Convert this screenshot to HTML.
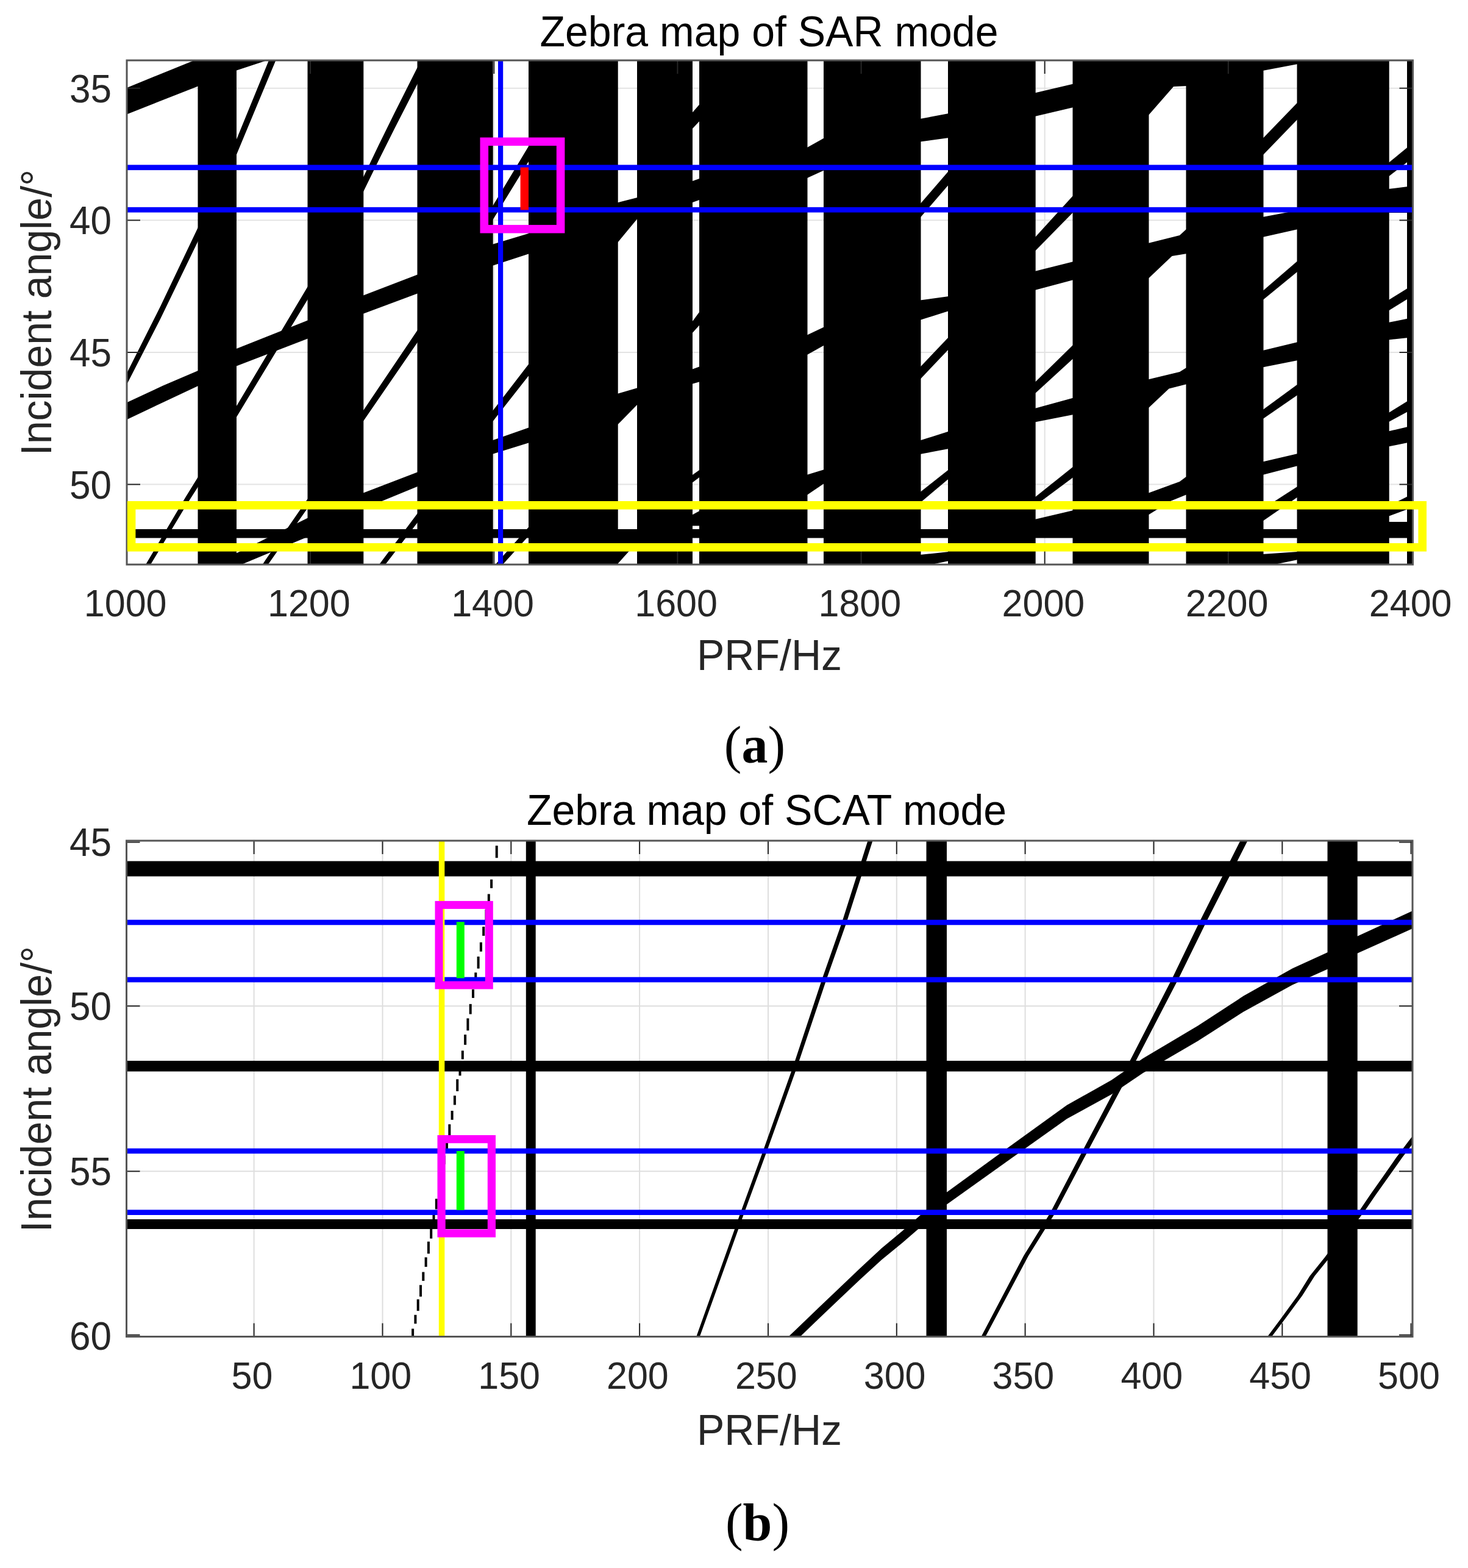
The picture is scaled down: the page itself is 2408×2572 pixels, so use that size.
<!DOCTYPE html>
<html lang="en">
<head>
<meta charset="utf-8">
<title>Zebra map of SAR mode and SCAT mode</title>
<style>
html,body{margin:0;padding:0;background:#fff;}
body{width:2408px;height:2572px;overflow:hidden;font-family:'Liberation Sans', Arial, Helvetica, sans-serif;}
svg{display:block;filter:blur(0.6px);}
</style>
</head>
<body>
<svg width="2408" height="2572" viewBox="0 0 2408 2572">
<defs>
<clipPath id="clipT"><rect x="208" y="99" width="2109.5" height="827"/></clipPath>
<clipPath id="clipB"><rect x="207.5" y="1379" width="2109.5" height="813.5"/></clipPath>
</defs>
<rect width="2408" height="2572" fill="#fff"/>
<rect x="208" y="99" width="2109.5" height="827" fill="#fff"/>
<line x1="208" x2="2317.5" y1="144.7" y2="144.7" stroke="#e3e3e3" stroke-width="2"/>
<line x1="208" x2="2317.5" y1="361.3" y2="361.3" stroke="#e3e3e3" stroke-width="2"/>
<line x1="208" x2="2317.5" y1="578" y2="578" stroke="#e3e3e3" stroke-width="2"/>
<line x1="208" x2="2317.5" y1="794.6" y2="794.6" stroke="#e3e3e3" stroke-width="2"/>
<line x1="509.1" x2="509.1" y1="99" y2="926" stroke="#e3e3e3" stroke-width="2"/>
<line x1="810.3" x2="810.3" y1="99" y2="926" stroke="#e3e3e3" stroke-width="2"/>
<line x1="1111.4" x2="1111.4" y1="99" y2="926" stroke="#e3e3e3" stroke-width="2"/>
<line x1="1412.6" x2="1412.6" y1="99" y2="926" stroke="#e3e3e3" stroke-width="2"/>
<line x1="1713.7" x2="1713.7" y1="99" y2="926" stroke="#e3e3e3" stroke-width="2"/>
<line x1="2014.8" x2="2014.8" y1="99" y2="926" stroke="#e3e3e3" stroke-width="2"/>
<g fill="#000" stroke="none" clip-path="url(#clipT)">
<rect x="324.5" y="99" width="63.5" height="827"/>
<rect x="504.5" y="99" width="91.8" height="827"/>
<rect x="684.5" y="99" width="124.2" height="827"/>
<rect x="867" y="99" width="146.7" height="827"/>
<rect x="1045" y="99" width="91" height="827"/>
<rect x="1147" y="99" width="177.5" height="827"/>
<rect x="1351" y="99" width="159.5" height="827"/>
<rect x="1555" y="99" width="143.7" height="827"/>
<rect x="1759.5" y="99" width="125" height="827"/>
<rect x="1945.5" y="99" width="127" height="827"/>
<rect x="2127.5" y="99" width="151.2" height="827"/>
<rect x="2308" y="99" width="10" height="827"/>
<polygon points="206.5,144.5 326,96 326,141 206.5,188"/>
<polygon points="386.5,572.5 506,525 506,555 386.5,601"/>
<polygon points="386.5,908 506,849 506,880 386.5,930"/>
<polygon points="594.8,485 686,450 686,481 594.8,515"/>
<polygon points="594.8,809 686,774 686,797.5 594.8,835"/>
<polygon points="807.2,401 868.5,382.5 868.5,416 807.2,436"/>
<polygon points="807.2,722.5 868.5,701 868.5,726 807.2,745"/>
<polygon points="1134.5,186 1148.5,170 1148.5,197.5 1134.5,212.5"/>
<polygon points="1134.5,297.5 1148.5,292.5 1148.5,327.5 1134.5,332.5"/>
<polygon points="1134.5,529 1148.5,510 1148.5,532 1134.5,547.5"/>
<polygon points="1134.5,606 1148.5,601 1148.5,626 1134.5,630"/>
<polygon points="1134.5,780 1148.5,770 1148.5,782 1134.5,792.5"/>
<polygon points="1134.5,845 1148.5,837.5 1148.5,862.5 1134.5,862.5"/>
<polygon points="1323,242.5 1352.5,226 1352.5,279 1323,292.5"/>
<polygon points="1323,550 1352.5,536 1352.5,566 1323,582.5"/>
<polygon points="1323,779 1352.5,770 1352.5,792.5 1323,812.5"/>
<polygon points="1509,195 1556.5,186 1556.5,226 1509,232.5"/>
<polygon points="1509,335 1556.5,280 1556.5,302.5 1509,357.5"/>
<polygon points="1509,492.5 1556.5,486 1556.5,510 1509,525"/>
<polygon points="1509,602.5 1556.5,552.5 1556.5,572.5 1509,622.5"/>
<polygon points="1509,722.5 1556.5,707.5 1556.5,736 1509,745"/>
<polygon points="1509,807.5 1556.5,770 1556.5,785 1509,825"/>
<polygon points="1509,910 1556.5,905 1556.5,920 1509,930"/>
<polygon points="1697.2,152.5 1761,137.5 1761,176 1697.2,191"/>
<polygon points="1697.2,390 1761,320 1761,347.5 1697.2,412.5"/>
<polygon points="1697.2,445 1761,429 1761,459 1697.2,476"/>
<polygon points="1697.2,627.5 1761,565 1761,587.5 1697.2,646"/>
<polygon points="1697.2,670 1761,652.5 1761,680 1697.2,692.5"/>
<polygon points="1697.2,816 1761,765 1761,782.5 1697.2,830"/>
<polygon points="1697.2,852 1761,837 1761,868 1697.2,868"/>
<polygon points="2071,90 2129,90 2129,105 2071,116"/>
<polygon points="2071,227.5 2129,167.5 2129,195 2071,255"/>
<polygon points="2071,356 2129,345 2129,376 2071,389"/>
<polygon points="2071,477.5 2129,427.5 2129,445 2071,492.5"/>
<polygon points="2071,575 2129,561 2129,591 2071,602.5"/>
<polygon points="2071,672.5 2129,630 2129,647.5 2071,687.5"/>
<polygon points="2071,757.5 2129,744 2129,764 2071,779"/>
<polygon points="2071,835 2129,797.5 2129,815 2071,855"/>
<polygon points="2071,909 2129,905 2129,918 2071,930"/>
<polygon points="2277.2,267.5 2309.5,241 2309.5,265 2277.2,290"/>
<polygon points="2277.2,310 2309.5,306 2309.5,349 2277.2,349"/>
<polygon points="2277.2,492.5 2309.5,472.5 2309.5,490 2277.2,510"/>
<polygon points="2277.2,529 2309.5,522.5 2309.5,554 2277.2,557.5"/>
<polygon points="2277.2,677.5 2309.5,657.5 2309.5,675 2277.2,692.5"/>
<polygon points="2277.2,707.5 2309.5,700 2309.5,726 2277.2,732.5"/>
<polygon points="2277.2,830 2309.5,814 2309.5,835 2277.2,847"/>
<polygon points="2277.2,856 2309.5,856 2309.5,868 2277.2,868"/>
<polygon points="386.5,99 438,99 386.5,116"/>
<polygon points="206.5,661 267.5,632.5 326,607.5 326,632.5 267.5,660 206.5,689"/>
<polygon points="1012.2,332.5 1046.5,323.7 1046.5,357.5 1012.2,399"/>
<polygon points="1012.2,646 1046.5,636 1046.5,662.5 1012.2,697.5"/>
<polygon points="1012.2,868 1046.5,868 1046.5,891 1031,905 1012.2,926"/>
<polygon points="1883,99 1947,99 1947,141 1925,142 1883,190"/>
<polygon points="1883,399 1935,386 1947,375 1947,416 1922.5,420 1883,457.5"/>
<polygon points="1883,622.5 1935,610 1947,602.5 1947,630 1917.5,637.5 1883,670"/>
<polygon points="1883,809 1935,790 1947,781 1947,811 1920,822 1883,845"/>
<polygon points="190,648 208.7,610.7 263,502.8 324.5,373.7 388,228.4 446,86.8 455,65.1 455,92.9 446,114.2 388,253.6 324.5,396.3 263,523.2 208.7,629.3 190,666"/>
<polygon points="231,939.4 243,919.3 305,814.4 324.5,783.1 388,666.1 504.5,470.5 596,290.5 621.4,237.5 647,185.5 684.5,111 705,70.1 705,97.9 684.5,138 647,211.3 621.4,262.5 596,314.5 504.5,491.5 388,683.9 324.5,798.9 305,829.6 243,932.7 231,952.6"/>
<polygon points="422,939.4 435,919.3 504.5,818.4 596,673.2 684.5,542.1 808.7,336.9 867,240 880,218.4 880,243.6 867,265 808.7,360.1 684.5,561.9 596,690.8 504.5,833.6 435,932.7 422,952.6"/>
<polygon points="612,939.4 627,919.3 684.5,842.6 808.7,673.2 867,597.6 880,580.4 880,599.6 867,616.4 808.7,690.8 684.5,857.4 627,932.7 612,952.6"/>
<polygon points="800,940.1 818.6,919.3 867,864.8 880,850.2 880,864.8 867,879.2 818.6,932.7 800,953.3"/>
<rect x="208" y="868" width="2109.5" height="14.5"/>
</g>
<line x1="208" x2="230" y1="144.7" y2="144.7" stroke="#262626" stroke-width="2"/>
<line x1="2317.5" x2="2295.5" y1="144.7" y2="144.7" stroke="#262626" stroke-width="2"/>
<line x1="208" x2="230" y1="361.3" y2="361.3" stroke="#262626" stroke-width="2"/>
<line x1="2317.5" x2="2295.5" y1="361.3" y2="361.3" stroke="#262626" stroke-width="2"/>
<line x1="208" x2="230" y1="578" y2="578" stroke="#262626" stroke-width="2"/>
<line x1="2317.5" x2="2295.5" y1="578" y2="578" stroke="#262626" stroke-width="2"/>
<line x1="208" x2="230" y1="794.6" y2="794.6" stroke="#262626" stroke-width="2"/>
<line x1="2317.5" x2="2295.5" y1="794.6" y2="794.6" stroke="#262626" stroke-width="2"/>
<line x1="509.1" x2="509.1" y1="99" y2="121" stroke="#262626" stroke-width="2"/>
<line x1="509.1" x2="509.1" y1="926" y2="904" stroke="#262626" stroke-width="2"/>
<line x1="810.3" x2="810.3" y1="99" y2="121" stroke="#262626" stroke-width="2"/>
<line x1="810.3" x2="810.3" y1="926" y2="904" stroke="#262626" stroke-width="2"/>
<line x1="1111.4" x2="1111.4" y1="99" y2="121" stroke="#262626" stroke-width="2"/>
<line x1="1111.4" x2="1111.4" y1="926" y2="904" stroke="#262626" stroke-width="2"/>
<line x1="1412.6" x2="1412.6" y1="99" y2="121" stroke="#262626" stroke-width="2"/>
<line x1="1412.6" x2="1412.6" y1="926" y2="904" stroke="#262626" stroke-width="2"/>
<line x1="1713.7" x2="1713.7" y1="99" y2="121" stroke="#262626" stroke-width="2"/>
<line x1="1713.7" x2="1713.7" y1="926" y2="904" stroke="#262626" stroke-width="2"/>
<line x1="2014.8" x2="2014.8" y1="99" y2="121" stroke="#262626" stroke-width="2"/>
<line x1="2014.8" x2="2014.8" y1="926" y2="904" stroke="#262626" stroke-width="2"/>
<rect x="208" y="270.4" width="2108.5" height="8.7" fill="#00f"/>
<rect x="208" y="339.8" width="2108.5" height="8.7" fill="#00f"/>
<rect x="817" y="99" width="8.2" height="827" fill="#00f"/>
<rect x="208" y="99" width="2109.5" height="827" fill="none" stroke="#555" stroke-width="3"/>
<rect x="853.6" y="274.6" width="13.4" height="69.8" fill="#f00"/>
<rect x="794.3" y="232.3" width="125.3" height="143.4" fill="none" stroke="#f0f" stroke-width="13.6"/>
<rect x="215.6" y="828.8" width="2117.6" height="69" fill="none" stroke="#ff0" stroke-width="13.6"/>
<rect x="207.5" y="1379" width="2109.5" height="813.5" fill="#fff"/>
<line x1="207.5" x2="2317" y1="1650.2" y2="1650.2" stroke="#dedede" stroke-width="2"/>
<line x1="207.5" x2="2317" y1="1921.3" y2="1921.3" stroke="#dedede" stroke-width="2"/>
<line x1="416.6" x2="416.6" y1="1379" y2="2192.5" stroke="#dedede" stroke-width="2"/>
<line x1="627.5" x2="627.5" y1="1379" y2="2192.5" stroke="#dedede" stroke-width="2"/>
<line x1="838.3" x2="838.3" y1="1379" y2="2192.5" stroke="#dedede" stroke-width="2"/>
<line x1="1049.1" x2="1049.1" y1="1379" y2="2192.5" stroke="#dedede" stroke-width="2"/>
<line x1="1260" x2="1260" y1="1379" y2="2192.5" stroke="#dedede" stroke-width="2"/>
<line x1="1470.8" x2="1470.8" y1="1379" y2="2192.5" stroke="#dedede" stroke-width="2"/>
<line x1="1681.6" x2="1681.6" y1="1379" y2="2192.5" stroke="#dedede" stroke-width="2"/>
<line x1="1892.5" x2="1892.5" y1="1379" y2="2192.5" stroke="#dedede" stroke-width="2"/>
<line x1="2103.3" x2="2103.3" y1="1379" y2="2192.5" stroke="#dedede" stroke-width="2"/>
<g fill="#000" stroke="none" clip-path="url(#clipB)">
<rect x="207.5" y="1412.5" width="2109.5" height="25"/>
<rect x="207.5" y="1740" width="2109.5" height="17.5"/>
<rect x="207.5" y="2000" width="2109.5" height="16"/>
<rect x="862.8" y="1379" width="15.9" height="813.5"/>
<rect x="1519.5" y="1379" width="33.5" height="813.5"/>
<rect x="2177.5" y="1379" width="49.2" height="813.5"/>
<polygon points="1284,2201.3 1304.2,2182.2 1342.9,2145 1376.8,2112.8 1410.6,2080.4 1446.1,2047.5 1480,2019.3 1552.5,1955.9 1660,1877.7 1750,1812.7 1823,1771.8 1875,1736 1965,1682.5 2040,1633.6 2120,1588.6 2177.5,1562.3 2227,1535.5 2315,1495 2330,1487.9 2330,1517.1 2315,1524 2227,1563.5 2177.5,1589.7 2120,1615.4 2040,1659.4 1965,1707.5 1875,1760 1823,1795.2 1750,1835.3 1660,1899.3 1552.5,1976.1 1480,2038.7 1446.1,2066.5 1410.6,2099 1376.8,2131.1 1342.9,2163.3 1304.2,2200.5 1284,2219.7"/>
<polygon points="1427,1369 1423.5,1379 1381.2,1512.5 1348.8,1605 1301.6,1747.5 1251.8,1887.5 1214.4,1990 1142.2,2192.5 1138.8,2202 1144.2,2202 1147.8,2192.5 1220.6,1990 1258.2,1887.5 1308.4,1747.5 1356.2,1605 1388.8,1512.5 1431.5,1379 1435,1369"/>
<polygon points="1604.5,2202 1609.5,2192.5 1679.1,2060 1722.4,1990 1775.9,1887.5 1849.6,1747.5 1922.7,1605 1967.4,1512.5 2034.5,1379 2039.5,1369 2051.5,1369 2046.5,1379 1978.6,1512.5 1933.3,1605 1859.4,1747.5 1784.7,1887.5 1730.6,1990 1686.9,2060 1616.5,2192.5 1611.5,2202"/>
<polygon points="2072.5,2202 2079,2192.5 2101.4,2162.5 2128.7,2125 2148.5,2093 2173.4,2062 2230.5,1985 2247.4,1960 2270.3,1927.5 2290.1,1899 2310,1872.5 2319,1861 2329,1861 2320,1872.5 2299.9,1899 2279.7,1927.5 2256.6,1960 2239.5,1985 2181.6,2062 2156.5,2093 2136.3,2125 2108.6,2162.5 2086,2192.5 2079.5,2202"/>
<rect x="817" y="1362.3" width="4" height="17"/>
<rect x="812.7" y="1387.2" width="4" height="20"/>
<rect x="808.4" y="1415.4" width="4" height="16.2"/>
<rect x="804.1" y="1442.6" width="4" height="14.2"/>
<rect x="799.8" y="1466.5" width="4" height="18.5"/>
<rect x="795.5" y="1492" width="4" height="19.4"/>
<rect x="791.2" y="1520.1" width="4" height="14.9"/>
<rect x="786.9" y="1545.7" width="4" height="15.1"/>
<rect x="782.6" y="1569.1" width="4" height="19.6"/>
<rect x="778.3" y="1595.3" width="4" height="18.2"/>
<rect x="774" y="1622.8" width="4" height="14.1"/>
<rect x="769.7" y="1646.9" width="4" height="16.6"/>
<rect x="765.4" y="1670.4" width="4" height="20"/>
<rect x="761.1" y="1697.1" width="4" height="16.7"/>
<rect x="756.8" y="1723.4" width="4" height="14.1"/>
<rect x="752.5" y="1746.3" width="4" height="18.1"/>
<rect x="748.2" y="1770.3" width="4" height="19.6"/>
<rect x="743.9" y="1797.2" width="4" height="15.2"/>
<rect x="739.6" y="1822" width="4" height="14.8"/>
<rect x="735.3" y="1844.2" width="4" height="19.3"/>
<rect x="731" y="1869" width="4" height="18.6"/>
<rect x="726.7" y="1895.5" width="4" height="14.3"/>
<rect x="722.4" y="1918.8" width="4" height="16.1"/>
<rect x="718.1" y="1941" width="4" height="20"/>
<rect x="713.8" y="1966.4" width="4" height="17.1"/>
<rect x="709.5" y="1991.9" width="4" height="14"/>
<rect x="705.2" y="2014" width="4" height="17.6"/>
<rect x="700.9" y="2036.6" width="4" height="19.8"/>
<rect x="696.6" y="2062.4" width="4" height="15.6"/>
<rect x="692.3" y="2086.5" width="4" height="14.5"/>
<rect x="688" y="2107.8" width="4" height="19"/>
<rect x="683.7" y="2131.3" width="4" height="18.9"/>
<rect x="679.4" y="2156.8" width="4" height="14.5"/>
<rect x="675.1" y="2179.5" width="4" height="15.7"/>
</g>
<line x1="416.6" x2="416.6" y1="1379" y2="1401" stroke="#262626" stroke-width="2"/>
<line x1="416.6" x2="416.6" y1="2192.5" y2="2170.5" stroke="#262626" stroke-width="2"/>
<line x1="627.5" x2="627.5" y1="1379" y2="1401" stroke="#262626" stroke-width="2"/>
<line x1="627.5" x2="627.5" y1="2192.5" y2="2170.5" stroke="#262626" stroke-width="2"/>
<line x1="838.3" x2="838.3" y1="1379" y2="1401" stroke="#262626" stroke-width="2"/>
<line x1="838.3" x2="838.3" y1="2192.5" y2="2170.5" stroke="#262626" stroke-width="2"/>
<line x1="1049.1" x2="1049.1" y1="1379" y2="1401" stroke="#262626" stroke-width="2"/>
<line x1="1049.1" x2="1049.1" y1="2192.5" y2="2170.5" stroke="#262626" stroke-width="2"/>
<line x1="1260" x2="1260" y1="1379" y2="1401" stroke="#262626" stroke-width="2"/>
<line x1="1260" x2="1260" y1="2192.5" y2="2170.5" stroke="#262626" stroke-width="2"/>
<line x1="1470.8" x2="1470.8" y1="1379" y2="1401" stroke="#262626" stroke-width="2"/>
<line x1="1470.8" x2="1470.8" y1="2192.5" y2="2170.5" stroke="#262626" stroke-width="2"/>
<line x1="1681.6" x2="1681.6" y1="1379" y2="1401" stroke="#262626" stroke-width="2"/>
<line x1="1681.6" x2="1681.6" y1="2192.5" y2="2170.5" stroke="#262626" stroke-width="2"/>
<line x1="1892.5" x2="1892.5" y1="1379" y2="1401" stroke="#262626" stroke-width="2"/>
<line x1="1892.5" x2="1892.5" y1="2192.5" y2="2170.5" stroke="#262626" stroke-width="2"/>
<line x1="2103.3" x2="2103.3" y1="1379" y2="1401" stroke="#262626" stroke-width="2"/>
<line x1="2103.3" x2="2103.3" y1="2192.5" y2="2170.5" stroke="#262626" stroke-width="2"/>
<line x1="207.5" x2="229.5" y1="1379" y2="1379" stroke="#262626" stroke-width="2"/>
<line x1="2317" x2="2295" y1="1379" y2="1379" stroke="#262626" stroke-width="2"/>
<line x1="207.5" x2="229.5" y1="1650.2" y2="1650.2" stroke="#262626" stroke-width="2"/>
<line x1="2317" x2="2295" y1="1650.2" y2="1650.2" stroke="#262626" stroke-width="2"/>
<line x1="207.5" x2="229.5" y1="1921.3" y2="1921.3" stroke="#262626" stroke-width="2"/>
<line x1="2317" x2="2295" y1="1921.3" y2="1921.3" stroke="#262626" stroke-width="2"/>
<line x1="207.5" x2="229.5" y1="2192.4" y2="2192.4" stroke="#262626" stroke-width="2"/>
<line x1="2317" x2="2295" y1="2192.4" y2="2192.4" stroke="#262626" stroke-width="2"/>
<line x1="207.5" x2="229.5" y1="1381.5" y2="1381.5" stroke="#262626" stroke-width="2"/>
<line x1="2317" x2="2295" y1="1381.5" y2="1381.5" stroke="#262626" stroke-width="2"/>
<line x1="207.5" x2="229.5" y1="2189.7" y2="2189.7" stroke="#262626" stroke-width="2"/>
<line x1="2317" x2="2295" y1="2189.7" y2="2189.7" stroke="#262626" stroke-width="2"/>
<line x1="2314.5" x2="2314.5" y1="1379" y2="1401" stroke="#262626" stroke-width="2"/>
<line x1="2314.5" x2="2314.5" y1="2170.5" y2="2192.5" stroke="#262626" stroke-width="2"/>
<rect x="207.5" y="1508.7" width="2108.5" height="8.6" fill="#00f"/>
<rect x="207.5" y="1602.7" width="2108.5" height="8.6" fill="#00f"/>
<rect x="207.5" y="1883.7" width="2108.5" height="8.6" fill="#00f"/>
<rect x="207.5" y="1984.4" width="2108.5" height="8.6" fill="#00f"/>
<rect x="719.8" y="1379" width="9.5" height="813.5" fill="#ff0"/>
<rect x="207.5" y="1379" width="2109.5" height="813.5" fill="none" stroke="#555" stroke-width="3"/>
<rect x="748.8" y="1512.2" width="13" height="92.3" fill="#0f0"/>
<rect x="748.8" y="1888" width="13" height="97" fill="#0f0"/>
<rect x="720" y="1484.4" width="82.3" height="131.6" fill="none" stroke="#f0f" stroke-width="13"/>
<rect x="724.1" y="1868.6" width="82.3" height="154.4" fill="none" stroke="#f0f" stroke-width="13.2"/>
<g font-family="'Liberation Sans', Arial, Helvetica, sans-serif" fill="#262626">
<text transform="translate(1261.5,75.5) scale(1,1.04)" font-size="68" text-anchor="middle" fill="#000">Zebra map of SAR mode</text>
<text transform="translate(1257.5,1353) scale(1,1.04)" font-size="68" text-anchor="middle" fill="#000">Zebra map of SCAT mode</text>
<text transform="translate(183,167.7) scale(1,1.04)" font-size="62" text-anchor="end">35</text>
<text transform="translate(183,384.3) scale(1,1.04)" font-size="62" text-anchor="end">40</text>
<text transform="translate(183,601) scale(1,1.04)" font-size="62" text-anchor="end">45</text>
<text transform="translate(183,817.6) scale(1,1.04)" font-size="62" text-anchor="end">50</text>
<text transform="translate(183,1404.3) scale(1,1.04)" font-size="62" text-anchor="end">45</text>
<text transform="translate(183,1673.4) scale(1,1.04)" font-size="62" text-anchor="end">50</text>
<text transform="translate(183,1943.7) scale(1,1.04)" font-size="62" text-anchor="end">55</text>
<text transform="translate(183,2214) scale(1,1.04)" font-size="62" text-anchor="end">60</text>
<text transform="translate(205.7,1010.5) scale(1,1.04)" font-size="61" text-anchor="middle">1000</text>
<text transform="translate(506.8,1010.5) scale(1,1.04)" font-size="61" text-anchor="middle">1200</text>
<text transform="translate(808,1010.5) scale(1,1.04)" font-size="61" text-anchor="middle">1400</text>
<text transform="translate(1109.1,1010.5) scale(1,1.04)" font-size="61" text-anchor="middle">1600</text>
<text transform="translate(1410.3,1010.5) scale(1,1.04)" font-size="61" text-anchor="middle">1800</text>
<text transform="translate(1711.4,1010.5) scale(1,1.04)" font-size="61" text-anchor="middle">2000</text>
<text transform="translate(2012.5,1010.5) scale(1,1.04)" font-size="61" text-anchor="middle">2200</text>
<text transform="translate(2313.7,1010.5) scale(1,1.04)" font-size="61" text-anchor="middle">2400</text>
<text transform="translate(413.4,2277.5) scale(1,1.04)" font-size="61" text-anchor="middle">50</text>
<text transform="translate(624.3,2277.5) scale(1,1.04)" font-size="61" text-anchor="middle">100</text>
<text transform="translate(835.1,2277.5) scale(1,1.04)" font-size="61" text-anchor="middle">150</text>
<text transform="translate(1045.9,2277.5) scale(1,1.04)" font-size="61" text-anchor="middle">200</text>
<text transform="translate(1256.8,2277.5) scale(1,1.04)" font-size="61" text-anchor="middle">250</text>
<text transform="translate(1467.6,2277.5) scale(1,1.04)" font-size="61" text-anchor="middle">300</text>
<text transform="translate(1678.4,2277.5) scale(1,1.04)" font-size="61" text-anchor="middle">350</text>
<text transform="translate(1889.3,2277.5) scale(1,1.04)" font-size="61" text-anchor="middle">400</text>
<text transform="translate(2100.1,2277.5) scale(1,1.04)" font-size="61" text-anchor="middle">450</text>
<text transform="translate(2311,2277.5) scale(1,1.04)" font-size="61" text-anchor="middle">500</text>
<text transform="translate(1262,1099) scale(1,1.04)" font-size="68" text-anchor="middle">PRF/Hz</text>
<text transform="translate(1262,2369.5) scale(1,1.04)" font-size="68" text-anchor="middle">PRF/Hz</text>
<text transform="translate(83.5,512.5) rotate(-90) scale(1,1.04)" font-size="68" text-anchor="middle">Incident angle/°</text>
<text transform="translate(83.5,1786.5) rotate(-90) scale(1,1.04)" font-size="68" text-anchor="middle">Incident angle/°</text>
</g>
<g font-family="'Liberation Serif', 'Times New Roman', serif" fill="#000" font-size="86" text-anchor="middle">
<text x="1238" y="1251">(<tspan font-weight="bold">a</tspan>)</text>
<text x="1242.5" y="2526">(<tspan font-weight="bold">b</tspan>)</text>
</g>
</svg>
</body>
</html>
